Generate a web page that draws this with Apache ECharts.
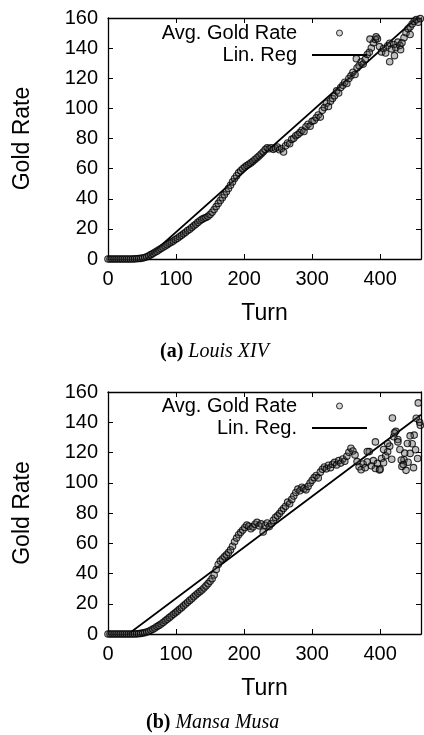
<!DOCTYPE html>
<html><head><meta charset="utf-8">
<script src="https://cdn.jsdelivr.net/npm/echarts/dist/echarts.min.js"></script>
<style>html,body{margin:0;padding:0;background:#fff}#c{width:424px;height:735px}</style>
</head><body><div id="c"></div>
<script>
// ---------- data ----------
const TURN_STEP = 3;               // one sample every 3 turns, starting at turn 0
const louisGold = [
 0,0,0,0,0,0,0,0,0,0,
 0,0,0,0.1,0.2,0.3,0.4,0.7,1.0,1.5,
 2.1,2.9,3.6,4.5,5.2,6.1,6.9,7.8,8.6,9.5,
 10.4,11.2,12.0,12.9,13.8,14.8,15.7,16.7,17.8,18.9,
 19.8,20.9,22.0,23.1,24.3,25.4,26.3,27.0,27.6,28.3,
 29.5,31.0,32.8,34.8,36.9,38.8,40.7,42.6,44.6,46.8,
 49.0,51.2,53.4,55.3,57.2,58.6,59.9,61.0,62.0,62.9,
 63.8,64.9,66.1,67.2,68.4,69.7,71.0,72.6,73.8,73.2,
 73.9,72.8,73.6,74.4,72.5,73.4,71.0,75.2,77.0,76.5,
 79.4,80.2,81.8,82.6,83.9,85.4,84.6,87.8,89.5,88.2,
 91.4,92.0,93.8,95.6,94.2,98.7,100.5,103.4,101.2,104.8,
 106.5,108.3,111.6,110.2,113.9,115.4,117.3,116.5,119.8,121.6,
 124.0,122.5,126.8,128.3,130.9,129.4,132.5,135.8,137.2,140.1,
 143.5,145.8,146.2,141.0,137.5,139.8,136.8,141.6,143.2,139.5,
 142.4,140.3,144.0,141.8,143.5,146.9,150.2,152.8,154.1,156.0,
 157.8,158.9,157.2,159.6
];
const louisExtraTurns = [365, 385, 394, 414, 421, 430, 444];
const louisExtraGold  = [133.0, 146.0, 147.5, 131.0, 135.0, 139.0, 149.0];

const mansaGold = [
 0,0,0,0,0,0,0,0,0,0,
 0,0,0,0,0.1,0.2,0.4,0.6,0.9,1.3,
 1.8,2.5,3.2,4.0,4.9,5.7,6.6,7.6,8.7,9.7,
 10.8,11.9,13.0,14.0,15.1,16.3,17.4,18.6,19.8,21.0,
 22.2,23.3,24.6,25.8,26.9,28.0,29.1,30.4,31.8,33.3,
 34.9,36.6,39.0,42.6,46.0,48.2,49.6,51.0,52.3,53.8,
 55.6,58.0,61.0,63.4,65.6,67.2,68.8,70.4,72.0,71.2,
 69.6,70.8,72.6,73.8,71.5,72.8,67.5,71.9,73.4,71.0,
 72.9,75.2,77.0,78.1,79.6,81.4,83.0,84.5,87.2,86.1,
 89.0,91.2,93.6,95.8,94.7,97.0,96.1,95.3,97.6,99.8,
 101.6,103.4,104.8,103.2,107.0,108.9,110.4,109.2,111.6,110.0,
 112.2,113.5,111.8,114.6,113.0,115.7,114.2,117.5,120.2,122.8,
 121.0,118.4,114.0,110.5,108.6,112.4,110.0,113.8,120.6,111.2,
 114.6,109.4,112.8,108.5,116.0,113.2,117.8,120.5,124.2,115.5,
 130.4,134.0,128.6,122.0,110.8,115.2,108.2,113.6,119.4,125.8,
 131.5,142.6,152.8,138.0
];
const mansaExtraTurns = [381, 393, 400, 405, 411, 418, 421, 426, 431, 434, 436, 440, 444, 449, 452, 455, 458];
const mansaExtraGold  = [120.7, 127.0, 109.0, 122.0, 126.0, 142.8, 133.0, 127.0, 115.0, 112.0, 119.6, 126.0, 131.0, 110.0, 121.8, 116.0, 140.0];

// linear regression coefficients (gold = slope * turn + intercept)
const louisReg = [0.402, -22.35];
const mansaReg = [0.337, -10.1];

const xTicks = [0, 100, 200, 300, 400];
const yTicks = [0, 20, 40, 60, 80, 100, 120, 140, 160];
const X_MAX = 460;
const legendNames = [['Avg. Gold Rate', 'Lin. Reg'], ['Avg. Gold Rate', 'Lin. Reg.']];
const captions = [['(a)', 'Louis XIV'], ['(b)', 'Mansa Musa']];

// ---------- build ----------
const SANS = 'Liberation Sans, Arial, Helvetica, sans-serif';
const SERIF = 'Liberation Serif, Times New Roman, serif';

function points(vals, exT, exV) {
  const pts = vals.map((v, i) => [i * TURN_STEP, v]);
  exT.forEach((t, i) => pts.push([t, exV[i]]));
  return pts;
}
function regLine(c) {
  return [[0, c[1]], [X_MAX, c[0] * X_MAX + c[1]]];
}

const grids = [
  { left: 108, top: 18, width: 317, height: 241 },
  { left: 108, top: 392, width: 317, height: 242 }
];

const xAxes = [], yAxes = [];
grids.forEach((g, gi) => {
  const lineSt = { show: true, onZero: false, lineStyle: { color: '#000', width: 1.3 } };
  const tickSt = { show: true, inside: true, length: 5, lineStyle: { color: '#000', width: 1 } };
  xAxes.push({
    gridIndex: gi, type: 'value', position: 'bottom', min: xTicks[0], max: X_MAX, interval: 100,
    axisLine: lineSt, axisTick: tickSt, splitLine: { show: false },
    axisLabel: { color: '#000', fontSize: 20, fontFamily: SANS, margin: 10,
      formatter: v => xTicks.indexOf(v) >= 0 ? String(v) : '' },
    name: 'Turn', nameLocation: 'middle', nameGap: 43,
    nameTextStyle: { color: '#000', fontSize: 23, fontFamily: SANS }
  });
  xAxes.push({
    gridIndex: gi, type: 'value', position: 'top', min: xTicks[0], max: X_MAX, interval: 100,
    axisLine: lineSt, axisTick: tickSt, splitLine: { show: false }, axisLabel: { show: false }
  });
  yAxes.push({
    gridIndex: gi, type: 'value', position: 'left', min: yTicks[0], max: yTicks[yTicks.length - 1], interval: 20,
    axisLine: lineSt, axisTick: tickSt, splitLine: { show: false },
    axisLabel: { color: '#000', fontSize: 20, fontFamily: SANS, margin: 10 },
    name: 'Gold Rate', nameLocation: 'middle', nameGap: 74, nameRotate: 90,
    nameTextStyle: { color: '#000', fontSize: 23, fontFamily: SANS }
  });
  yAxes.push({
    gridIndex: gi, type: 'value', position: 'right', min: yTicks[0], max: yTicks[yTicks.length - 1], interval: 20,
    axisLine: lineSt, axisTick: tickSt, splitLine: { show: false }, axisLabel: { show: false }
  });
});

const scatterStyle = { color: 'rgba(80,80,80,0.45)', borderColor: '#000', borderWidth: 1.1 };
const datasets = [
  { pts: points(louisGold, louisExtraTurns, louisExtraGold), reg: louisReg },
  { pts: points(mansaGold, mansaExtraTurns, mansaExtraGold), reg: mansaReg }
];
const series = [];
datasets.forEach((d, gi) => {
  series.push({
    name: legendNames[gi][1], type: 'line', xAxisIndex: gi * 2, yAxisIndex: gi * 2,
    data: regLine(d.reg), symbol: 'none', showSymbol: false, clip: true,
    lineStyle: { color: '#000', width: 1.8 }, itemStyle: { color: '#000' }, z: 2
  });
  series.push({
    name: legendNames[gi][0], type: 'scatter', xAxisIndex: gi * 2, yAxisIndex: gi * 2,
    data: d.pts, symbol: 'circle', symbolSize: 6.5, clip: true, itemStyle: scatterStyle, z: 3
  });
});

const legendTops = [23, 396];
const legends = legendNames.map((names, gi) => ({
  data: [
    { name: names[0], itemStyle: { color: 'rgba(170,170,170,0.6)', borderColor: '#000', borderWidth: 1 } },
    { name: names[1], itemStyle: { opacity: 0, color: 'rgba(0,0,0,0)', borderWidth: 0 },
      lineStyle: { color: '#000', width: 2 } }
  ],
  orient: 'vertical', align: 'right', right: 56, top: legendTops[gi], padding: 0,
  itemWidth: 55, itemHeight: 6, itemGap: 2, selectedMode: false,
  textStyle: { color: '#000', fontSize: 20, fontFamily: SANS },
  formatter: n => n + '\u2002'
}));

const capPos = [[160, 342], [146, 713]];
const titles = captions.map((c, i) => ({
  text: '{b|' + c[0] + '} {i|' + c[1] + '}', left: capPos[i][0], top: capPos[i][1], padding: 0,
  textStyle: { fontFamily: SERIF, fontSize: 20, fontWeight: 'normal', color: '#000',
    rich: { b: { fontFamily: SERIF, fontWeight: 'bold', fontSize: 20, color: '#000' },
            i: { fontFamily: SERIF, fontStyle: 'italic', fontWeight: 'normal', fontSize: 20, color: '#000' } } }
}));

const chart = echarts.init(document.getElementById('c'));
chart.setOption({
  animation: false,
  backgroundColor: '#fff',
  title: titles,
  legend: legends,
  grid: grids,
  xAxis: xAxes,
  yAxis: yAxes,
  series: series
});
</script></body></html>
